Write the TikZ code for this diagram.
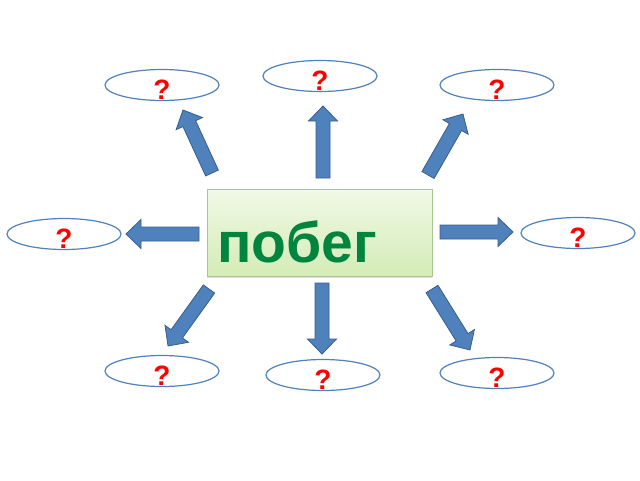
\documentclass[tikz,border=0pt]{standalone}
\usepackage{fontspec}
\setmainfont{Liberation Sans}
\usetikzlibrary{calc,shapes.geometric,shadows}
\definecolor{arrowfill}{RGB}{79,129,189}
\definecolor{arrowline}{RGB}{56,93,138}
\definecolor{boxtop}{RGB}{240,249,230}
\definecolor{boxbottom}{RGB}{212,236,182}
\definecolor{boxline}{RGB}{170,196,146}
\definecolor{stemgreen}{RGB}{0,132,62}
\tikzset{stembox/.style={draw=boxline,thick,top color=boxtop,bottom color=boxbottom,
  minimum width=225pt,minimum height=87pt,text width=205pt,align=left,
  inner xsep=10pt,inner ysep=4pt,text height=69pt,text depth=10pt,
  drop shadow={opacity=0.25,shadow xshift=0pt,shadow yshift=-1.5pt},
  font=\fontsize{57}{60}\selectfont\bfseries,text=stemgreen}}
% the question mark sits a little below the middle
\tikzset{qmark/.style={ellipse,draw=arrowfill,line width=1.2pt,fill=white,
  minimum width=114pt,minimum height=31pt,inner sep=0pt,
  text height=0pt,text depth=0pt,
  execute at begin node={\lower14pt\hbox\bgroup},execute at end node={\egroup},
  font=\fontsize{28}{30}\selectfont\bfseries,text=red}}
\tikzset{blockarrow/.style={fill=arrowfill,draw=arrowline,line width=0.8pt,line join=miter}}
% block arrow from tail #1 to tip #2
\newcommand{\blockarrow}[2]{%
  \filldraw[blockarrow] let \p1=($(#2)-(#1)$), \n1={atan2(\y1,\x1)}, \n2={veclen(\x1,\y1)} in
    [shift={(#1)},rotate=\n1] (0,-7) -- ({\n2-15},-7) -- ({\n2-15},-14.5) -- (\n2,0)
    -- ({\n2-15},14.5) -- ({\n2-15},7) -- (0,7) -- cycle;}

\begin{document}
\begin{tikzpicture}[x=1pt,y=-1pt]
	\useasboundingbox (0,0) rectangle (640,480);
	\node [stembox] (stem) at (319.5,232.5) {побег};

	% the eight questions
	\node [qmark] (q1) at (162,85) {?};
	\node [qmark] (q2) at (320,76) {?};
	\node [qmark] (q3) at (497,85) {?};
	\node [qmark] (q4) at (64,234) {?};
	\node [qmark] (q5) at (578,233) {?};
	\node [qmark] (q6) at (162,371) {?};
	\node [qmark] (q7) at (323,375) {?};
	\node [qmark] (q8) at (497,373) {?};

	% tails and tips of the arrows
	\coordinate (a1) at (212,173); \coordinate (b1) at (183,110);
	\coordinate (a2) at (323,178); \coordinate (b2) at (323,106);
	\coordinate (a3) at (428,175); \coordinate (b3) at (463,114);
	\coordinate (a4) at (199,234); \coordinate (b4) at (126,234);
	\coordinate (a5) at (440,232); \coordinate (b5) at (513,232);
	\coordinate (a6) at (209,289); \coordinate (b6) at (168,346);
	\coordinate (a7) at (322,283); \coordinate (b7) at (322,354);
	\coordinate (a8) at (432,289); \coordinate (b8) at (470,350);

	\foreach \i in {1,...,8}
		\blockarrow{a\i}{b\i};
\end{tikzpicture}
\end{document}
